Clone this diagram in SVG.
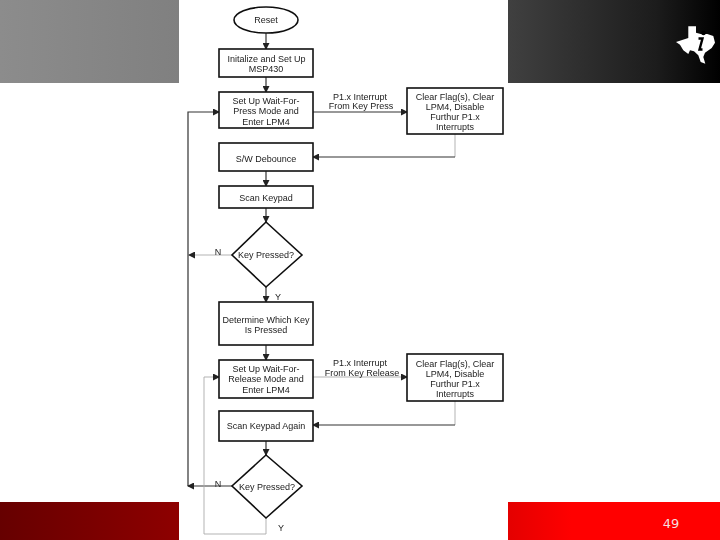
<svg xmlns="http://www.w3.org/2000/svg" width="720" height="540" viewBox="0 0 720 540">
<style>
.b{fill:#fff;stroke:#111;stroke-width:1.6}
.t{font-family:"Liberation Sans",Arial,sans-serif;font-size:9px;fill:#222;text-anchor:middle}
.c{fill:none;stroke:#333;stroke-width:1.2}
.g{fill:none;stroke:#aaa;stroke-width:.9}
</style>
<defs>
<linearGradient id="gr" x1="0" x2="1" y1="0" y2="0"><stop offset="0" stop-color="#8c8c8c"/><stop offset="1" stop-color="#808080"/></linearGradient>
<linearGradient id="dk" x1="0" x2="1" y1="0" y2="0"><stop offset="0" stop-color="#404040"/><stop offset=".7" stop-color="#1c1c1c"/><stop offset="1" stop-color="#000"/></linearGradient>
<linearGradient id="dr" x1="0" x2="1" y1="0" y2="0"><stop offset="0" stop-color="#660000"/><stop offset="1" stop-color="#8e0000"/></linearGradient>
<linearGradient id="rd" x1="0" x2="1" y1="0" y2="0"><stop offset="0" stop-color="#e40000"/><stop offset=".3" stop-color="#ff0000"/><stop offset="1" stop-color="#ff0000"/></linearGradient>
<marker id="a" markerUnits="userSpaceOnUse" markerWidth="7" markerHeight="7" refX="6" refY="3.500" orient="auto"><path d="M0 0L7 3.500L0 7Z" fill="#222"/></marker>
<filter id="s" x="-2%" y="-2%" width="104%" height="104%"><feGaussianBlur stdDeviation="0.35"/></filter>
</defs>
<rect width="720" height="540" fill="#fff"/>
<g id="banners">
<rect x="0" y="0" width="179" height="83" fill="url(#gr)"/>
<rect x="508" y="0" width="212" height="83" fill="url(#dk)"/>
<rect x="0" y="502" width="179" height="38" fill="url(#dr)"/>
<rect x="508" y="502" width="212" height="38" fill="url(#rd)"/>
<text x="671" y="528" font-family="'DejaVu Sans',sans-serif" font-size="13" fill="#f4dede" text-anchor="middle">49</text>
</g>
<g id="logo">
<path d="M688.300 26.300H696V32.700L700.700 34H707.300L713.300 36L715 42.700L711.700 48L705 52.700L703.300 57L705.300 63.700L700.700 62L698.300 55.300L694 51.300L690 50.300L688.300 54L683.300 50.300L680 44.700L676 42L688.300 38Z" fill="#fff"/>
<path d="M698.500 38.500H702.500L699.500 49.500H702.500" fill="none" stroke="#000" stroke-width="2.400"/>
<circle cx="703.500" cy="33" r="2.300" fill="#000"/>
</g>
<g filter="url(#s)">
<g id="connectors">
<path class="c" d="M266 33V49" marker-end="url(#a)"/>
<path class="c" d="M266 77V92" marker-end="url(#a)"/>
<path class="c" d="M313 112H407" marker-end="url(#a)"/>
<path class="g" d="M455 134V157"/>
<path class="c" d="M455 157H313" marker-end="url(#a)"/>
<path class="c" d="M266 171V186" marker-end="url(#a)"/>
<path class="c" d="M266 208V222" marker-end="url(#a)"/>
<path class="g" d="M232 255H189" marker-end="url(#a)"/>
<path class="c" d="M188 486V112H219" marker-end="url(#a)"/>
<path class="c" d="M266 287V302" marker-end="url(#a)"/>
<path class="c" d="M266 345V360" marker-end="url(#a)"/>
<path class="g" d="M313 377H407" marker-end="url(#a)"/>
<path class="g" d="M455 401V425"/>
<path class="c" d="M455 425H313" marker-end="url(#a)"/>
<path class="c" d="M266 441V455" marker-end="url(#a)"/>
<path class="c" d="M232 486H188" marker-end="url(#a)"/>
<path class="g" d="M266 518V534H204V377H219" marker-end="url(#a)"/>
</g>
<g id="reset"><ellipse class="b" cx="266" cy="20" rx="32" ry="13"/><text class="t" x="266" y="23">Reset</text></g>
<g id="init"><rect class="b" x="219" y="49" width="94" height="28"/><text class="t" x="266.500" y="62">Initalize and Set Up</text><text class="t" x="266" y="72">MSP430</text></g>
<g id="wait-press"><rect class="b" x="219" y="92" width="94" height="36"/><text class="t" x="266" y="104">Set Up Wait-For-</text><text class="t" x="266" y="114">Press Mode and</text><text class="t" x="266" y="125">Enter LPM4</text></g>
<g id="clear1"><rect class="b" x="407" y="88" width="96" height="46"/><text class="t" x="455" y="100">Clear Flag(s), Clear</text><text class="t" x="455" y="110">LPM4, Disable</text><text class="t" x="455" y="120">Furthur P1.x</text><text class="t" x="455" y="130">Interrupts</text></g>
<g id="debounce"><rect class="b" x="219" y="143" width="94" height="28"/><text class="t" x="266" y="162">S/W Debounce</text></g>
<g id="scan"><rect class="b" x="219" y="186" width="94" height="22"/><text class="t" x="266" y="201">Scan Keypad</text></g>
<g id="key1"><path class="b" d="M266 222L302 255L266 287L232 255Z"/><text class="t" x="266" y="258">Key Pressed?</text></g>
<g id="determine"><rect class="b" x="219" y="302" width="94" height="43"/><text class="t" x="266" y="323">Determine Which Key</text><text class="t" x="266" y="333">Is Pressed</text></g>
<g id="wait-release"><rect class="b" x="219" y="360" width="94" height="38"/><text class="t" x="266" y="372">Set Up Wait-For-</text><text class="t" x="266" y="382">Release Mode and</text><text class="t" x="266" y="393">Enter LPM4</text></g>
<g id="clear2"><rect class="b" x="407" y="354" width="96" height="47"/><text class="t" x="455" y="367">Clear Flag(s), Clear</text><text class="t" x="455" y="377">LPM4, Disable</text><text class="t" x="455" y="387">Furthur P1.x</text><text class="t" x="455" y="397">Interrupts</text></g>
<g id="scan2"><rect class="b" x="219" y="411" width="94" height="30"/><text class="t" x="266" y="429">Scan Keypad Again</text></g>
<g id="key2"><path class="b" d="M266 455L302 486L266 518L232 486Z"/><text class="t" x="267" y="490">Key Pressed?</text></g>
<g id="labels">
<text class="t" x="360" y="100">P1.x Interrupt</text>
<text class="t" x="361" y="109">From Key Press</text>
<text class="t" x="360" y="366">P1.x Interrupt</text>
<text class="t" x="362" y="376">From Key Release</text>
<text class="t" x="218" y="255">N</text>
<text class="t" x="278" y="300">Y</text>
<text class="t" x="218" y="487">N</text>
<text class="t" x="281" y="531">Y</text>
</g>
</g>
</svg>
